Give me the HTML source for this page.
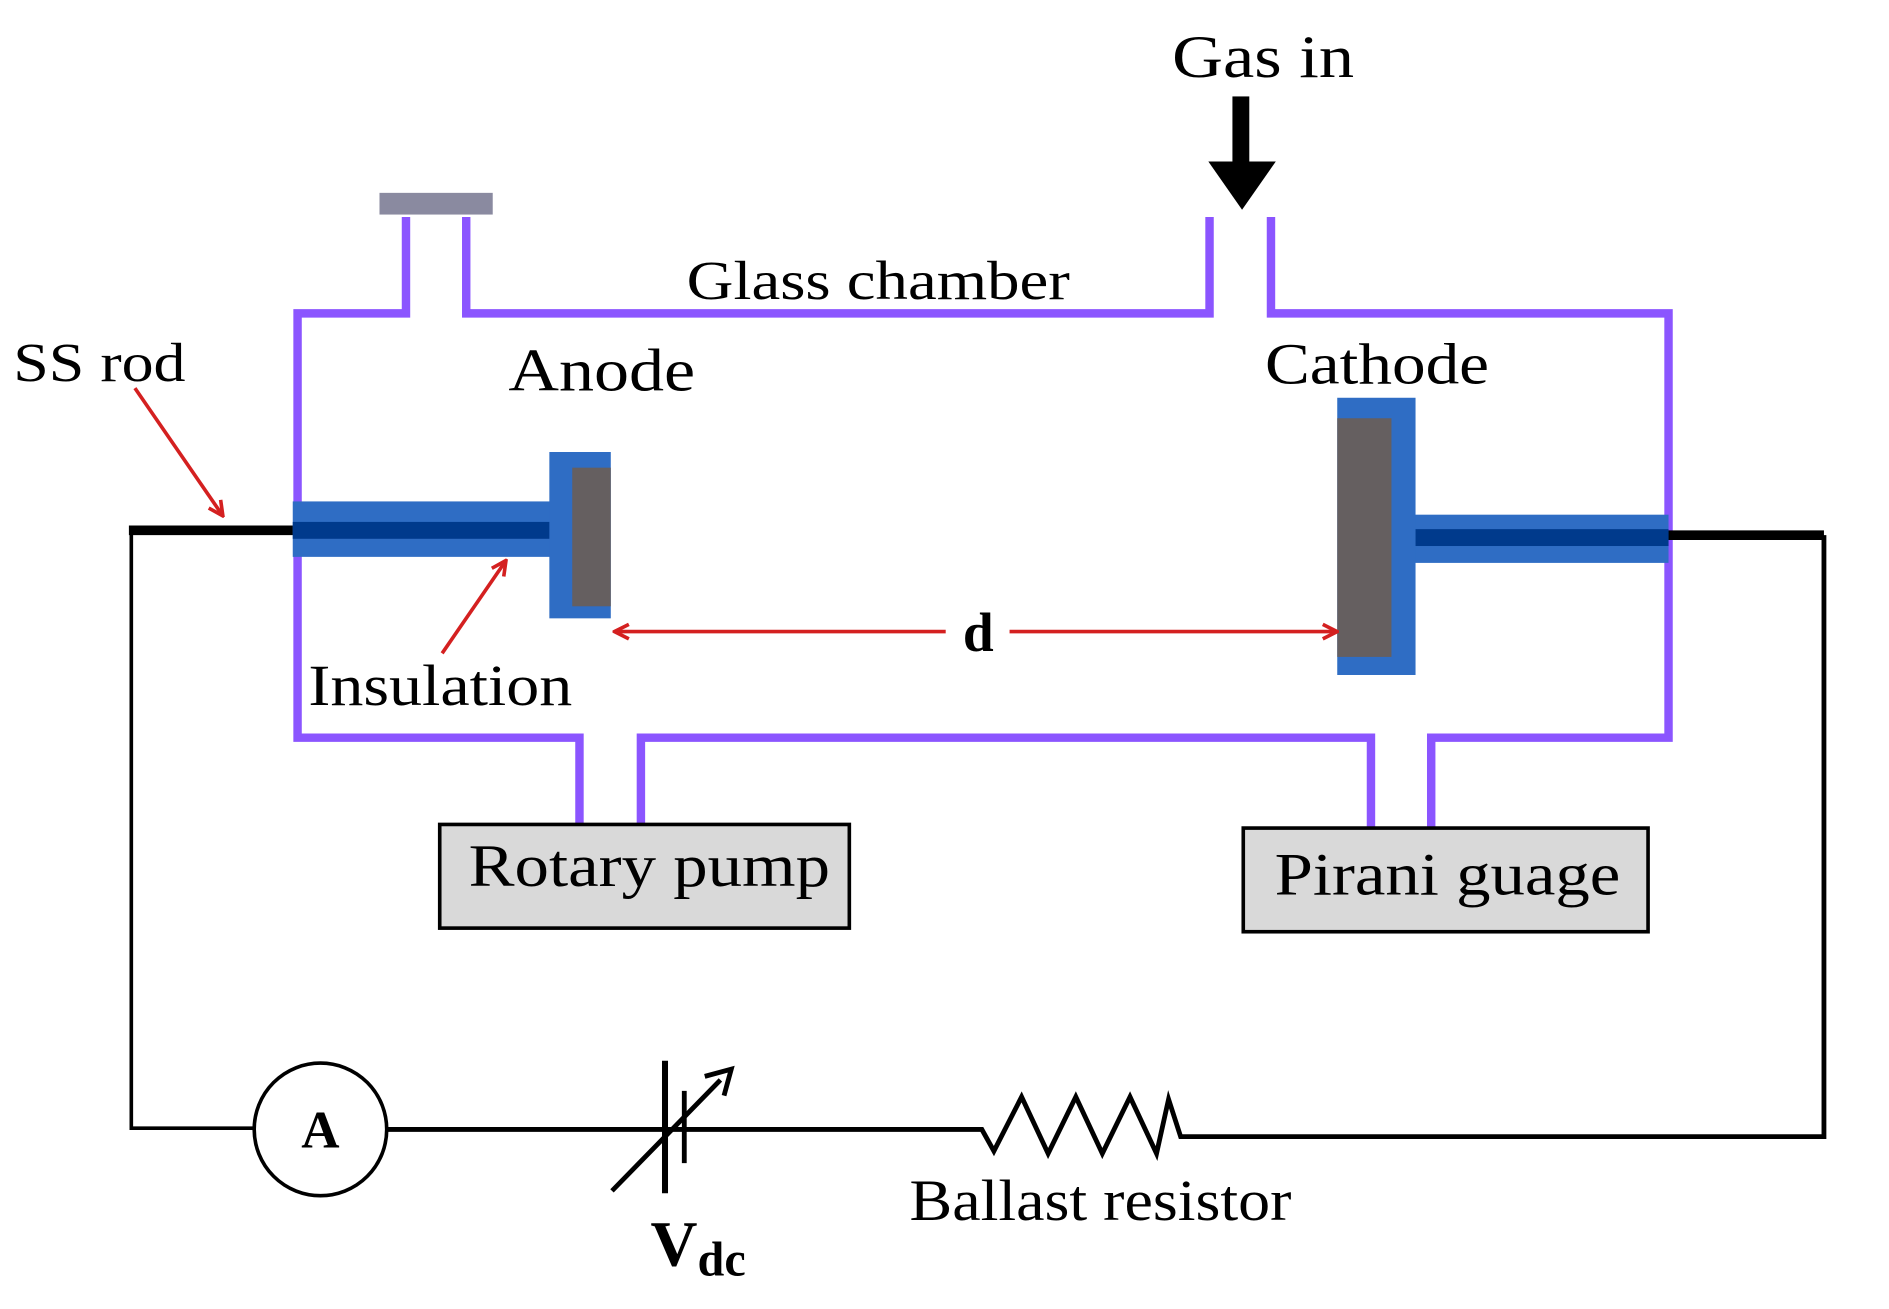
<!DOCTYPE html>
<html><head><meta charset="utf-8"><style>
html,body{margin:0;padding:0;background:#fff;}
svg{display:block;}
text{font-family:"Liberation Serif",serif;fill:#000;}
</style></head><body>
<svg width="1889" height="1309" viewBox="0 0 1568 1086" preserveAspectRatio="none" xmlns="http://www.w3.org/2000/svg">
<defs>
<marker id="ra" viewBox="0 0 10 10" refX="9" refY="5" markerWidth="5" markerHeight="5" orient="auto-start-reverse" markerUnits="strokeWidth">
<path d="M1,1 L9,5 L1,9" fill="none" stroke="#d42020" stroke-width="2"/></marker>
</defs>
<rect width="1568" height="1086" fill="#fff"/>
<path d="M337,180 L337,260 L247,260 L247,612 L481,612 L481,684 M532,684 L532,612 L1138,612 L1138,686 M1188,686 L1188,612 L1385,612 L1385,260 L1055,260 L1055,180 M1004,180 L1004,260 L387,260 L387,180" fill="none" stroke="#8b55ff" stroke-width="7"/>
<rect x="315" y="160" width="94" height="18" fill="#8a8aa0"/>
<line x1="107" y1="440" x2="247" y2="440" stroke="#000" stroke-width="8"/>
<line x1="1383" y1="444" x2="1514" y2="444" stroke="#000" stroke-width="8"/>
<rect x="243" y="416" width="232" height="46" fill="#2f6dc4"/>
<rect x="243" y="433" width="232" height="14" fill="#003a8c"/>
<rect x="456" y="375" width="51" height="138" fill="#2f6dc4"/>
<rect x="475" y="388" width="32" height="115" fill="#655f60"/>
<rect x="1155" y="427" width="230" height="40" fill="#2f6dc4"/>
<rect x="1155" y="439" width="230" height="14" fill="#003a8c"/>
<rect x="1110" y="330" width="65" height="230" fill="#2f6dc4"/>
<rect x="1110" y="347" width="45" height="198" fill="#655f60"/>
<polyline points="109,440 109,936 212,936" fill="none" stroke="#000" stroke-width="3"/>
<circle cx="266" cy="937" r="55" fill="#fff" stroke="#000" stroke-width="3"/>
<text x="266" y="952" font-size="44" font-weight="bold" text-anchor="middle">A</text>
<polyline points="321,937 815,937 825,955 848,910 870,957 893,910 915,957 938,910 960,957 970,912 980,943 1514,943 1514,444" fill="none" stroke="#000" stroke-width="4"/>
<line x1="552" y1="880" x2="552" y2="990" stroke="#000" stroke-width="5"/>
<line x1="568" y1="905" x2="568" y2="965" stroke="#000" stroke-width="4"/>
<line x1="508" y1="988" x2="598" y2="896" stroke="#000" stroke-width="4"/>
<polyline points="585,893 607,887 601,909" fill="none" stroke="#000" stroke-width="4"/>
<rect x="1023" y="80" width="14" height="60" fill="#000"/>
<polygon points="1003,134 1059,134 1031,174" fill="#000"/>
<line x1="112" y1="322" x2="185" y2="428" stroke="#d42020" stroke-width="3" marker-end="url(#ra)"/>
<line x1="367" y1="542" x2="420" y2="465" stroke="#d42020" stroke-width="3" marker-end="url(#ra)"/>
<line x1="510" y1="524" x2="785" y2="524" stroke="#d42020" stroke-width="3" marker-start="url(#ra)"/>
<line x1="838" y1="524" x2="1110" y2="524" stroke="#d42020" stroke-width="3" marker-end="url(#ra)"/>
<rect x="365" y="684" width="340" height="86" fill="#d9d9d9" stroke="#000" stroke-width="3"/>
<rect x="1032" y="687" width="336" height="86" fill="#d9d9d9" stroke="#000" stroke-width="3"/>
<text x="389" y="735" font-size="50" textLength="300" lengthAdjust="spacingAndGlyphs">Rotary pump</text>
<text x="1058" y="742" font-size="50" textLength="287" lengthAdjust="spacingAndGlyphs">Pirani guage</text>
<text x="973" y="64" font-size="50" textLength="151" lengthAdjust="spacingAndGlyphs">Gas in</text>
<text x="570" y="248" font-size="46" textLength="318" lengthAdjust="spacingAndGlyphs">Glass chamber</text>
<text x="11" y="316" font-size="46" textLength="143" lengthAdjust="spacingAndGlyphs">SS rod</text>
<text x="422" y="324" font-size="50" textLength="155" lengthAdjust="spacingAndGlyphs">Anode</text>
<text x="1050" y="318" font-size="48" textLength="186" lengthAdjust="spacingAndGlyphs">Cathode</text>
<text x="256" y="585" font-size="48" textLength="219" lengthAdjust="spacingAndGlyphs">Insulation</text>
<text x="812" y="540" font-size="46" font-weight="bold" text-anchor="middle">d</text>
<text x="755" y="1012" font-size="48" textLength="317" lengthAdjust="spacingAndGlyphs">Ballast resistor</text>
<text x="540" y="1050" font-size="54" font-weight="bold">V<tspan font-size="40" dy="8">dc</tspan></text>
</svg>
</body></html>
